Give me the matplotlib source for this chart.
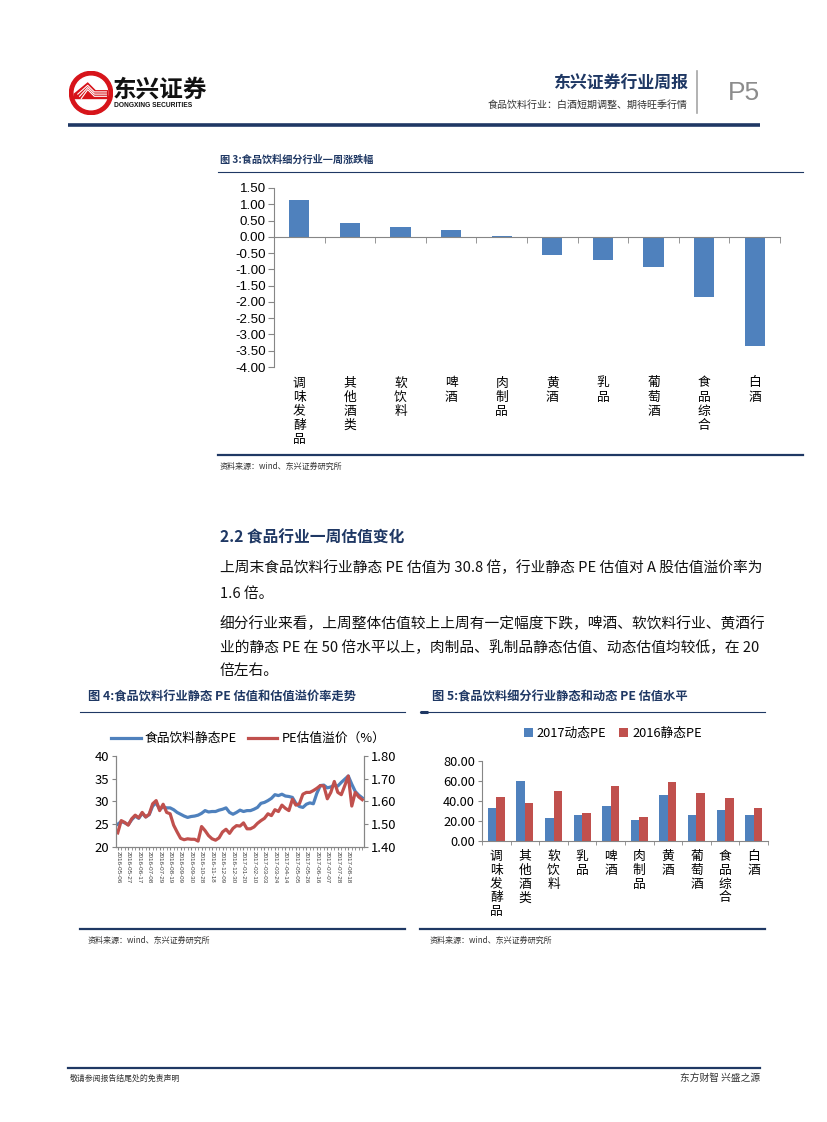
import matplotlib
matplotlib.use("Agg")
import matplotlib.pyplot as plt
from matplotlib.patches import Circle, Polygon
from matplotlib.lines import Line2D
from matplotlib.ticker import MultipleLocator, FixedLocator, FormatStrFormatter

plt.rcParams['font.family'] = ['Noto Sans CJK SC', 'DejaVu Sans']

W, H = 827, 1122
BAR_BLUE = "#4F81BD"
BAR_RED = "#C0504D"
NAVY = "#1F3864"
AXIS_GRAY = "#868686"
NUM_FONT = ['Liberation Sans', 'Noto Sans CJK SC']

# 图3 一周涨跌幅
week_cats = ["调味发酵品", "其他酒类", "软饮料", "啤酒", "肉制品", "黄酒", "乳品", "葡萄酒", "食品综合", "白酒"]
week_change = [1.12, 0.43, 0.30, 0.20, 0.04, -0.55, -0.70, -0.93, -1.85, -3.37]

# 图4 静态PE 和 估值溢价 (周度)
pe_static = [25.0, 25.6, 25.3, 24.9, 26.0, 26.8, 26.3, 27.4, 26.6, 27.1, 29.0, 29.7, 28.3, 28.8,
             28.6, 28.6, 28.2, 27.6, 27.2, 26.8, 26.5, 26.7, 26.8, 27.0, 27.4, 28.0, 27.7, 27.8,
             27.8, 28.1, 28.3, 28.6, 27.6, 27.2, 27.6, 28.1, 27.8, 28.0, 28.0, 28.3, 28.7, 29.6,
             29.8, 30.2, 30.7, 31.5, 31.3, 31.6, 31.2, 31.1, 30.9, 29.6, 28.9, 28.7, 29.4, 29.7,
             29.5, 31.8, 33.5, 33.6, 33.0, 33.2, 33.6, 33.4, 34.2, 34.9, 35.6, 33.8, 32.2, 31.4, 30.8]
pe_premium = [1.462, 1.516, 1.508, 1.496, 1.524, 1.540, 1.528, 1.552, 1.532, 1.544, 1.590, 1.604,
              1.560, 1.588, 1.552, 1.546, 1.496, 1.466, 1.438, 1.432, 1.436, 1.434, 1.434, 1.426,
              1.490, 1.472, 1.450, 1.436, 1.430, 1.440, 1.466, 1.478, 1.460, 1.482, 1.494, 1.492,
              1.506, 1.480, 1.480, 1.488, 1.504, 1.516, 1.526, 1.546, 1.538, 1.564, 1.556, 1.584,
              1.570, 1.560, 1.610, 1.584, 1.590, 1.632, 1.640, 1.640, 1.648, 1.658, 1.670, 1.668,
              1.612, 1.640, 1.688, 1.640, 1.630, 1.670, 1.712, 1.580, 1.640, 1.620, 1.608]
date_labels = ["2016-05-06", "2016-05-27", "2016-06-17", "2016-07-08", "2016-07-29", "2016-08-19",
               "2016-09-09", "2016-09-30", "2016-10-28", "2016-11-18", "2016-12-09", "2016-12-30",
               "2017-01-20", "2017-02-10", "2017-03-03", "2017-03-24", "2017-04-14", "2017-05-05",
               "2017-05-26", "2017-06-16", "2017-07-07", "2017-07-28", "2017-08-18"]

# 图5 细分行业 PE
pe_cats = ["调味发酵品", "其他酒类", "软饮料", "乳品", "啤酒", "肉制品", "黄酒", "葡萄酒", "食品综合", "白酒"]
pe_2017_dyn = [33.5, 60.0, 23.0, 26.5, 35.5, 21.0, 46.0, 26.5, 31.5, 26.5]
pe_2016_static = [44.0, 38.0, 50.5, 28.5, 55.5, 24.0, 59.0, 48.0, 43.0, 33.5]


def rect(x0, y0, x1, y1):
    return [x0 / W, 1 - y1 / H, (x1 - x0) / W, (y1 - y0) / H]


def vertical_labels(ax, names, first_off, step, size):
    tr = ax.get_xaxis_transform()
    for i, name in enumerate(names):
        for j, ch in enumerate(name):
            ax.annotate(ch, xy=(i, 0), xycoords=tr, xytext=(0, -first_off - j * step),
                        textcoords="offset points", ha="center", va="center",
                        fontsize=size, color="#000000", annotation_clip=False)


fig = plt.figure(figsize=(W / 100, H / 100), dpi=100)
bg = fig.add_axes([0, 0, 1, 1])
bg.set_xlim(0, W)
bg.set_ylim(H, 0)
bg.axis("off")

# ---- 页眉
logo = fig.add_axes(rect(69, 71, 113, 115))
logo.set_xlim(-1, 1)
logo.set_ylim(-1, 1)
logo.set_aspect("equal")
logo.axis("off")
logo.add_patch(Circle((0, 0), 0.98, color="#D7141A"))
logo.add_patch(Circle((0, 0), 0.76, color="white"))
logo.add_patch(Polygon([(-0.76, -0.05), (-0.15, 0.45), (0.2, 0.1), (0.76, 0.1), (0.76, -0.25),
                        (-0.76, -0.25)], color="#D7141A"))
for k in range(3):
    yy = 0.05 - k * 0.1
    logo.plot([-0.6 + k * 0.08, -0.15, 0.15, 0.7], [yy - 0.1, yy + 0.3, yy, yy], color="white", lw=0.8)

bg.text(113, 90, "东兴证券", fontsize=17, fontweight="bold", color="#111111", va="center", ha="left")
bg.text(114, 105, "DONGXING SECURITIES", fontsize=4.8, fontweight="bold", color="#111111",
        va="center", ha="left", family=NUM_FONT)
bg.text(688, 84, "东兴证券行业周报", fontsize=12.2, fontweight="bold", color=NAVY, ha="right", va="center")
bg.text(688, 105, "食品饮料行业：白酒短期调整、期待旺季行情", fontsize=7.2, color="#333333",
        ha="right", va="center")
bg.plot([697, 697], [71, 113], color="#A6A6A6", lw=1.2)
bg.text(744, 93, "P5", fontsize=19, color="#8C8C8C", ha="center", va="center", family=NUM_FONT)
bg.plot([68, 760], [124.5, 124.5], color=NAVY, lw=2.6, solid_capstyle="butt")

# ---- 图3
bg.text(220, 160, "图 3:食品饮料细分行业一周涨跌幅", fontsize=7.3, fontweight="bold", color=NAVY,
        ha="left", va="center")
bg.plot([218, 803], [172, 172], color=NAVY, lw=0.8)
ax3 = fig.add_axes(rect(274, 188, 780, 367))
ax3.set_facecolor("none")
x3 = range(len(week_cats))
ax3.bar(x3, week_change, width=0.4, color=BAR_BLUE, zorder=2)
ax3.set_xlim(-0.5, len(week_cats) - 0.5)
ax3.set_ylim(-4, 1.5)
ax3.yaxis.set_major_locator(MultipleLocator(0.5))
ax3.yaxis.set_major_formatter(FormatStrFormatter("%.2f"))
for side in ["top", "right"]:
    ax3.spines[side].set_visible(False)
ax3.spines["left"].set_color(AXIS_GRAY)
ax3.spines["bottom"].set_color(AXIS_GRAY)
ax3.spines["bottom"].set_position(("data", 0))
ax3.set_xticks([])
ax3.xaxis.set_minor_locator(FixedLocator([i - 0.5 for i in range(len(week_cats) + 1)]))
ax3.tick_params(axis="x", which="minor", direction="out", length=4, color=AXIS_GRAY)
ax3.tick_params(axis="y", direction="out", length=4, color=AXIS_GRAY, labelsize=9.6, pad=2)
for lb in ax3.get_yticklabels():
    lb.set_family(NUM_FONT)
vertical_labels(ax3, week_cats, 11.5, 10.2, 9.2)
bg.plot([218, 803], [455, 455], color=NAVY, lw=1.6)
bg.text(220, 466, "资料来源：wind、东兴证券研究所", fontsize=5.8, style="italic", color="#333333",
        ha="left", va="center")

# ---- 正文
bg.text(220, 538, "2.2 食品行业一周估值变化", fontsize=11.3, fontweight="bold", color=NAVY,
        ha="left", va="center")
body = [
    (568, "上周末食品饮料行业静态 PE 估值为 30.8 倍，行业静态 PE 估值对 A 股估值溢价率为"),
    (594, "1.6 倍。"),
    (624, "细分行业来看，上周整体估值较上上周有一定幅度下跌，啤酒、软饮料行业、黄酒行"),
    (648, "业的静态 PE 在 50 倍水平以上，肉制品、乳制品静态估值、动态估值均较低，在 20"),
    (671, "倍左右。"),
]
for yy, line in body:
    bg.text(220, yy, line, fontsize=10.6, color="#111111", ha="left", va="center")

# ---- 图4
bg.text(88, 697, "图 4:食品饮料行业静态 PE 估值和估值溢价率走势", fontsize=8.8, fontweight="bold",
        color=NAVY, ha="left", va="center")
bg.plot([80, 405], [712, 712], color=NAVY, lw=0.8)
ax4 = fig.add_axes(rect(116, 756, 364, 847))
ax4.set_facecolor("none")
x4 = list(range(len(pe_static)))
ax4.plot(x4, pe_static, color=BAR_BLUE, lw=2.3)
ax4r = ax4.twinx()
ax4r.plot(x4, pe_premium, color=BAR_RED, lw=2.3)
ax4.set_xlim(-0.5, len(pe_static) - 0.5)
ax4.set_ylim(20, 40)
ax4r.set_ylim(1.4, 1.8)
ax4.yaxis.set_major_locator(MultipleLocator(5))
ax4r.yaxis.set_major_locator(MultipleLocator(0.1))
ax4r.yaxis.set_major_formatter(FormatStrFormatter("%.2f"))
for a in (ax4, ax4r):
    a.spines["top"].set_visible(False)
    for side in ["left", "right", "bottom"]:
        a.spines[side].set_color(AXIS_GRAY)
    a.tick_params(axis="y", direction="out", length=3, color=AXIS_GRAY, labelsize=9.4, pad=2)
ax4.set_xticks(x4[::3][:len(date_labels)])
ax4.set_xticklabels(date_labels, rotation=-90, fontsize=4.5, color="#404040", family=NUM_FONT)
ax4.xaxis.set_minor_locator(FixedLocator(x4))
ax4.tick_params(axis="x", which="both", direction="out", length=2, color=AXIS_GRAY, pad=1)
handles4 = [Line2D([], [], color=BAR_BLUE, lw=2.3), Line2D([], [], color=BAR_RED, lw=2.3)]
ax4.legend(handles4, ["食品饮料静态PE", "PE估值溢价（%）"], loc="center left", bbox_to_anchor=(-0.04, 1.19),
           ncol=2, frameon=False, fontsize=9.2, handlelength=2.3, columnspacing=0.9, handletextpad=0.3,
           borderaxespad=0)
bg.plot([80, 405], [929, 929], color=NAVY, lw=1.6)
bg.text(88, 940, "资料来源：wind、东兴证券研究所", fontsize=5.8, style="italic", color="#333333",
        ha="left", va="center")

# ---- 图5
bg.text(432, 697, "图 5:食品饮料细分行业静态和动态 PE 估值水平", fontsize=8.8, fontweight="bold",
        color=NAVY, ha="left", va="center")
bg.plot([420, 765], [712, 712], color=NAVY, lw=0.8)
bg.plot([420, 428], [711.5, 711.5], color=NAVY, lw=2.2, solid_capstyle="butt")
ax5 = fig.add_axes(rect(482, 761, 768, 841))
ax5.set_facecolor("none")
x5 = list(range(len(pe_cats)))
bw = 0.3
ax5.bar([i - bw / 2 for i in x5], pe_2017_dyn, width=bw, color=BAR_BLUE, label="2017动态PE")
ax5.bar([i + bw / 2 for i in x5], pe_2016_static, width=bw, color=BAR_RED, label="2016静态PE")
ax5.set_xlim(-0.5, len(pe_cats) - 0.5)
ax5.set_ylim(0, 80)
ax5.yaxis.set_major_locator(MultipleLocator(20))
ax5.yaxis.set_major_formatter(FormatStrFormatter("%.2f"))
for side in ["top", "right"]:
    ax5.spines[side].set_visible(False)
ax5.spines["left"].set_color(AXIS_GRAY)
ax5.spines["bottom"].set_color(AXIS_GRAY)
ax5.set_xticks([])
ax5.xaxis.set_minor_locator(FixedLocator([i - 0.5 for i in range(len(pe_cats) + 1)]))
ax5.tick_params(axis="x", which="minor", direction="out", length=3, color=AXIS_GRAY)
ax5.tick_params(axis="y", direction="out", length=3, color=AXIS_GRAY, labelsize=9.2, pad=2)
vertical_labels(ax5, pe_cats, 11.0, 10.0, 9.2)
ax5.legend(loc="center", bbox_to_anchor=(0.458, 1.35), ncol=2, frameon=False, fontsize=9.2,
           handlelength=0.7, handleheight=0.7, handletextpad=0.3, columnspacing=1.0, borderaxespad=0)
bg.plot([420, 765], [929, 929], color=NAVY, lw=1.6)
bg.text(430, 940, "资料来源：wind、东兴证券研究所", fontsize=5.8, style="italic", color="#333333",
        ha="left", va="center")

# ---- 页脚
bg.plot([68, 760], [1068, 1068], color=NAVY, lw=1.6)
bg.text(70, 1078, "敬请参阅报告结尾处的免责声明", fontsize=5.7, color="#333333", ha="left", va="center")
bg.text(760, 1078, "东方财智 兴盛之源", fontsize=7, color="#333333", ha="right", va="center")

fig.savefig("out.png", dpi=100)
